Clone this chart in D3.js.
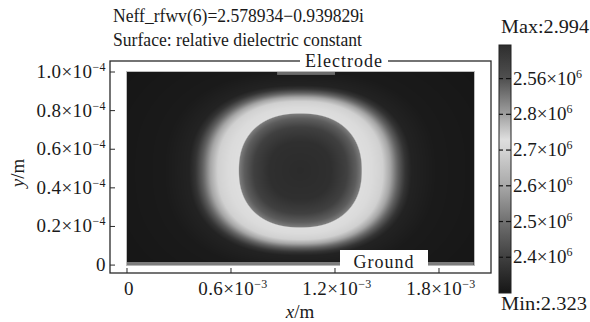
<!DOCTYPE html>
<html>
<head>
<meta charset="utf-8">
<script src="https://cdn.jsdelivr.net/npm/d3@7"></script>
<style>
  body { margin: 0; background: #fff; }
  svg { display: block; }
</style>
</head>
<body>
<svg id="chart" width="590" height="322"></svg>
<script>
// ---- data ----
const titleLines = ["Neff_rfwv(6)=2.578934\u22120.939829i", "Surface: relative dielectric constant"];
const xTicks = [0, 0.6e-3, 1.2e-3, 1.8e-3];
const xTickText = [["0", ""], ["0.6", "\u22123"], ["1.2", "\u22123"], ["1.8", "\u22123"]];
const yTicks = [0, 0.2e-4, 0.4e-4, 0.6e-4, 0.8e-4, 1.0e-4];
const yTickText = [["0", ""], ["0.2", "\u22124"], ["0.4", "\u22124"], ["0.6", "\u22124"], ["0.8", "\u22124"], ["1.0", "\u22124"]];
const cbTicks = [2.9e6, 2.8e6, 2.7e6, 2.6e6, 2.5e6, 2.4e6];
const cbTickText = ["2.56", "2.8", "2.7", "2.6", "2.5", "2.4"];
const cbMax = "Max:2.994", cbMin = "Min:2.323";
// colour map of the bar (value -> grey level)
const cbStopVals = [2.3e6, 2.4e6, 2.5e6, 2.6e6, 2.7e6, 2.73e6, 2.8e6, 2.9e6, 2.994e6];
const cbStopGrey = [22, 64, 112, 168, 212, 222, 160, 80, 46];
// domain of the waveguide and the ring of the field
const domainX = [0, 2e-3], domainY = [0, 1e-4];
const ringCenter = [1.0e-3, 0.49e-4];
const ringInner = [0.358e-3, 0.298e-4];
const ringOuter = [0.64e-3, 0.44e-4];
// permittivity along the ring profile (t<0 inside, 0 = inner edge, 1 = outer fade)
const ringT   = [-1, -0.5, -0.25, -0.1, -0.02, 0, 0.2, 0.42, 0.58, 0.74, 0.88, 1.0, 1.5, 3];
const ringEps = [2.35e6, 2.36e6, 2.40e6, 2.46e6, 2.52e6, 2.73e6, 2.72e6, 2.69e6, 2.59e6, 2.46e6, 2.37e6, 2.33e6, 2.31e6, 2.3e6];
const electrodeX = [0.866e-3, 1.2e-3], electrodeY = [0.985e-4, 1e-4];
const groundY = [0, 0.016e-4];

// ---- layout ----
const svg = d3.select("#chart")
  .attr("font-family", "'Liberation Serif', 'Times New Roman', serif")
  .attr("fill", "#1a1a1a");
const frame = { left: 110, right: 491, top: 61, bottom: 273 };
const x = d3.scaleLinear().domain([-0.098e-3, 2.1e-3]).range([frame.left, frame.right]);
const y = d3.scaleLinear().domain([-0.041e-4, 1.057e-4]).range([frame.bottom, frame.top]);
const cb = d3.scaleLinear().domain([2.3e6, 2.994e6]).range([293, 45]);
const grey = d3.scaleLinear().domain(cbStopVals)
  .range(cbStopGrey.map(g => d3.rgb(g, g, g))).clamp(true);

// title
svg.selectAll("text.title").data(titleLines).enter().append("text")
  .attr("class", "title")
  .attr("x", 113).attr("y", (d, i) => 22 + i * 23.5)
  .attr("font-size", 18)
  .attr("textLength", (d, i) => i ? 249 : 251)
  .attr("lengthAdjust", "spacingAndGlyphs")
  .text(d => d);

// field image
const px0 = Math.round(x(domainX[0])), px1 = Math.round(x(domainX[1]));
const py0 = Math.round(y(domainY[1])), py1 = Math.round(y(domainY[0]));
const w = px1 - px0, h = py1 - py0;
const canvas = document.createElement("canvas");
canvas.width = w; canvas.height = h;
const ctx = canvas.getContext("2d");
const img = ctx.createImageData(w, h);
const profile = d3.scaleLinear().domain(ringT).range(ringEps).clamp(true);
const pIn = 2.3, pOut = 2.4;
for (let j = 0; j < h; j++) {
  for (let i = 0; i < w; i++) {
    const dx = Math.abs(x.invert(px0 + i + 0.5) - ringCenter[0]);
    const dy = Math.abs(y.invert(py0 + j + 0.5) - ringCenter[1]);
    const ri = Math.pow(Math.pow(dx / ringInner[0], pIn) + Math.pow(dy / ringInner[1], pIn), 1 / pIn);
    const ro = Math.pow(Math.pow(dx / ringOuter[0], pOut) + Math.pow(dy / ringOuter[1], pOut), 1 / pOut);
    const t = ri < 1 ? ri - 1 : (ri - 1) / (ri / ro - 1);
    const c = d3.rgb(grey(profile(t)));
    const k = (j * w + i) * 4;
    img.data[k] = c.r; img.data[k + 1] = c.g; img.data[k + 2] = c.b; img.data[k + 3] = 255;
  }
}
ctx.putImageData(img, 0, 0);
svg.append("image")
  .attr("x", px0).attr("y", py0).attr("width", w).attr("height", h)
  .attr("href", canvas.toDataURL());
svg.append("rect")
  .attr("x", px0 - 0.5).attr("y", py0 - 0.5).attr("width", w + 1).attr("height", h + 1)
  .attr("fill", "none").attr("stroke", "#bdbdbd").attr("stroke-width", 1);

// electrodes
svg.append("rect")
  .attr("x", x(electrodeX[0])).attr("width", x(electrodeX[1]) - x(electrodeX[0]))
  .attr("y", y(electrodeY[1])).attr("height", y(electrodeY[0]) - y(electrodeY[1]))
  .attr("fill", "#6c6c6c");
svg.append("rect")
  .attr("x", x(domainX[0])).attr("width", x(domainX[1]) - x(domainX[0]))
  .attr("y", y(groundY[1])).attr("height", y(groundY[0]) - y(groundY[1]))
  .attr("fill", "#7d7d7d");

// frame and ticks
svg.append("rect")
  .attr("x", frame.left).attr("y", frame.top)
  .attr("width", frame.right - frame.left).attr("height", frame.bottom - frame.top)
  .attr("fill", "none").attr("stroke", "#2a2a2a").attr("stroke-width", 1.3);

svg.selectAll("line.xt").data(xTicks).enter().append("line")
  .attr("x1", d => x(d)).attr("x2", d => x(d))
  .attr("y1", frame.bottom).attr("y2", frame.bottom - 5)
  .attr("stroke", "#2a2a2a");
svg.selectAll("line.yt").data(yTicks).enter().append("line")
  .attr("x1", frame.left).attr("x2", frame.left + 5)
  .attr("y1", d => y(d)).attr("y2", d => y(d))
  .attr("stroke", "#2a2a2a");

function sciLabel(sel) {
  sel.each(function (d) {
    const t = d3.select(this);
    t.append("tspan").text(d[1] ? d[0] + "\u00d710" : d[0]);
    if (d[1]) t.append("tspan").attr("font-size", 12).attr("dy", -7).text(d[1]);
  });
}

svg.selectAll("text.xl").data(xTicks).enter().append("text")
  .attr("class", "xl")
  .attr("x", d => x(d) + 2).attr("y", 295)
  .attr("font-size", 19).attr("letter-spacing", 0.4).attr("text-anchor", "middle")
  .data(xTickText).call(sciLabel);

svg.selectAll("text.yl").data(yTicks).enter().append("text")
  .attr("class", "yl")
  .attr("x", 106).attr("y", d => y(d) + 6)
  .attr("font-size", 19).attr("letter-spacing", 0.4).attr("text-anchor", "end")
  .data(yTickText).call(sciLabel);

// axis titles
const xt = svg.append("text").attr("x", 300).attr("y", 318).attr("font-size", 19).attr("text-anchor", "middle");
xt.append("tspan").attr("font-style", "italic").text("x");
xt.append("tspan").text("/m");
const yt = svg.append("text").attr("transform", "translate(24,173) rotate(-90)")
  .attr("font-size", 19).attr("text-anchor", "middle");
yt.append("tspan").attr("font-style", "italic").text("y");
yt.append("tspan").text("/m");

// boundary labels
const boxes = [
  { text: "Electrode", x0: 300, x1: 388, y0: 53, y1: 68, base: 66.5 },
  { text: "Ground", x0: 340, x1: 428, y0: 250, y1: 271, base: 268 }
];
svg.selectAll("rect.lab").data(boxes).enter().append("rect")
  .attr("x", d => d.x0).attr("y", d => d.y0)
  .attr("width", d => d.x1 - d.x0).attr("height", d => d.y1 - d.y0)
  .attr("fill", "#fff");
svg.selectAll("text.lab").data(boxes).enter().append("text")
  .attr("x", d => (d.x0 + d.x1) / 2).attr("y", d => d.base)
  .attr("text-anchor", "middle").attr("font-size", 18)
  .attr("letter-spacing", 1)
  .text(d => d.text);

// colour bar (stops from top = max to bottom = min)
const grad = svg.append("defs").append("linearGradient")
  .attr("id", "cbGrad").attr("x1", 0).attr("x2", 0).attr("y1", 0).attr("y2", 1);
const cbTop = cb(cbStopVals[cbStopVals.length - 1]), cbBot = cb(cbStopVals[0]);
grad.selectAll("stop").data(cbStopVals.slice().reverse()).enter().append("stop")
  .attr("offset", d => (cb(d) - cbTop) / (cbBot - cbTop))
  .attr("stop-color", d => grey(d));
svg.append("rect")
  .attr("x", 499).attr("y", cbTop).attr("width", 12).attr("height", cbBot - cbTop)
  .attr("fill", "url(#cbGrad)").attr("stroke", "#222").attr("stroke-width", 1);
svg.selectAll("line.cbt").data(cbTicks).enter().append("line")
  .attr("x1", 499).attr("x2", 503).attr("y1", d => cb(d)).attr("y2", d => cb(d))
  .attr("stroke", "#111").attr("stroke-width", 1.2);
svg.selectAll("line.cbt2").data(cbTicks).enter().append("line")
  .attr("x1", 506).attr("x2", 511).attr("y1", d => cb(d)).attr("y2", d => cb(d))
  .attr("stroke", "#111").attr("stroke-width", 1.2);
svg.selectAll("text.cbl").data(cbTicks).enter().append("text")
  .attr("x", 513).attr("y", d => cb(d) + 6)
  .attr("font-size", 19)
  .data(cbTickText.map(s => [s, "6"])).call(sciLabel);
svg.append("text").attr("x", 501).attr("y", 33).attr("font-size", 19)
  .attr("textLength", 88).attr("lengthAdjust", "spacingAndGlyphs").text(cbMax);
svg.append("text").attr("x", 501).attr("y", 310).attr("font-size", 19)
  .attr("textLength", 86).attr("lengthAdjust", "spacingAndGlyphs").text(cbMin);
</script>
</body>
</html>
